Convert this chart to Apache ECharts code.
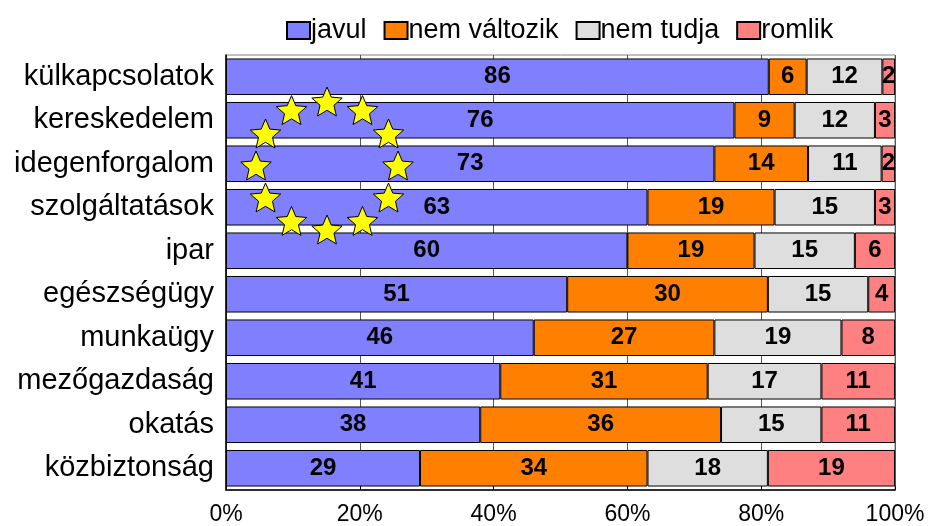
<!DOCTYPE html>
<html><head><meta charset="utf-8">
<script src="https://cdn.jsdelivr.net/npm/echarts@6/dist/echarts.min.js"></script>
<style>html,body{margin:0;padding:0;background:#fff}#c{width:928px;height:526px}</style>
</head><body><div id="c"></div>
<script>
const categories = ['külkapcsolatok','kereskedelem','idegenforgalom','szolgáltatások','ipar','egészségügy','munkaügy','mezőgazdaság','okatás','közbiztonság'];
const seriesNames = ['javul','nem változik','nem tudja','romlik'];
const javul = [86,76,73,63,60,51,46,41,38,29];
const nemValtozik = [6,9,14,19,19,30,27,31,36,34];
const nemTudja = [12,12,11,15,15,15,19,17,15,18];
const romlik = [2,3,2,3,6,4,8,11,11,19];
const xTicks = [0,20,40,60,80,100];
const colors = ['#8080FF','#FF8000','#DEDEDE','#FF8080'];

const raw = [javul, nemValtozik, nemTudja, romlik];
const totals = categories.map((_, i) => raw.reduce((s, a) => s + a[i], 0));

const FONT = '"Liberation Sans", Arial, sans-serif';
const chart = echarts.init(document.getElementById('c'));

// EU star ring (decoration)
function starPoints(cx, cy, R, r) {
  const pts = [];
  for (let k = 0; k < 10; k++) {
    const a = -Math.PI / 2 + k * Math.PI / 5;
    const rad = k % 2 === 0 ? R : r;
    pts.push([cx + rad * Math.cos(a), cy + rad * Math.sin(a)]);
  }
  return pts;
}
const stars = [];
for (let k = 0; k < 12; k++) {
  const a = -Math.PI / 2 + k * Math.PI / 6;
  stars.push({
    type: 'polygon',
    shape: { points: starPoints(327 + 71 * Math.cos(a), 167 + 64 * Math.sin(a), 16, 7.3) },
    style: { fill: '#FFFF00', stroke: '#000', lineWidth: 1 },
    z: 100
  });
}

chart.setOption({
  animation: false,
  textStyle: { fontFamily: FONT },
  legend: {
    top: 12, left: 281,
    itemWidth: 23, itemHeight: 17, itemGap: 17,
    icon: 'rect',
    textStyle: { fontSize: 27, color: '#000', fontFamily: FONT, padding: [0, 0, 0, -4] },
    data: seriesNames
  },
  grid: { left: 226, right: 33, top: 55, bottom: 34, show: true, borderColor: '#808080', borderWidth: 1 },
  xAxis: {
    type: 'value', min: 0, max: 100, interval: 20,
    axisLine: { show: true, lineStyle: { color: '#000', width: 1.5 } },
    axisTick: { show: true, inside: true, length: 4, lineStyle: { color: '#000' } },
    axisLabel: { formatter: v => xTicks.includes(v) ? v + '%' : '', fontSize: 23, color: '#000', margin: 13, fontFamily: FONT },
    splitLine: { show: true, lineStyle: { color: '#555', width: 1 } }
  },
  yAxis: {
    type: 'category', data: categories, inverse: true,
    axisLine: { show: true, lineStyle: { color: '#000', width: 1.5 } },
    axisTick: { show: false },
    axisLabel: { fontSize: 29, color: '#000', margin: 12, fontFamily: FONT }
  },
  series: raw.map((arr, si) => ({
    name: seriesNames[si],
    type: 'bar', stack: 'all',
    barCategoryGap: '16%',
    itemStyle: { color: colors[si], borderColor: '#000', borderWidth: 1 },
    label: {
      show: true, position: 'inside', color: '#000', fontWeight: 'bold', fontSize: 24, fontFamily: FONT,
      formatter: p => String(arr[p.dataIndex])
    },
    data: arr.map((v, i) => v / totals[i] * 100)
  })),
  graphic: stars
});
</script></body></html>
